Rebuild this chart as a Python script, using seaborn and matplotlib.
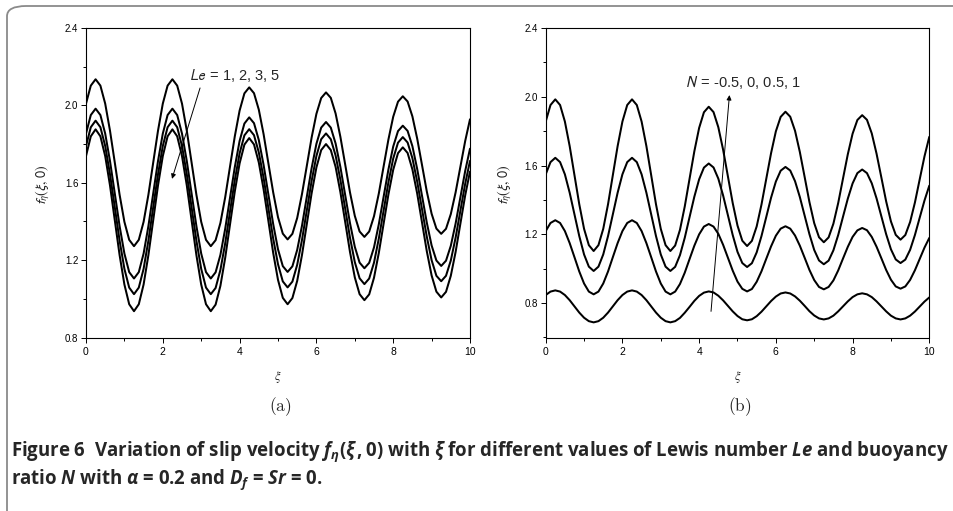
import numpy as np
import pandas as pd
import seaborn as sns
import matplotlib
matplotlib.use("Agg")
import matplotlib.pyplot as plt
from matplotlib.ticker import MultipleLocator, FixedLocator
from matplotlib.patches import FancyBboxPatch

# ---------------- data ----------------
xi = np.arange(81) * 0.125  # xi grid 0 .. 10

le_labels = ["Le = 1", "Le = 2", "Le = 3", "Le = 5"]
le_1 = [2.009, 2.102, 2.135, 2.102, 2.009, 1.869, 1.704, 1.538, 1.398, 1.305, 1.272,
        1.305, 1.398, 1.538, 1.704, 1.869, 2.009, 2.102, 2.135,
        2.102, 2.009, 1.869, 1.704, 1.538, 1.398, 1.305, 1.272,
        1.303, 1.392, 1.525, 1.683, 1.840, 1.973, 2.062, 2.093,
        2.063, 1.978, 1.851, 1.700, 1.550, 1.422, 1.337, 1.307,
        1.336, 1.418, 1.542, 1.687, 1.833, 1.956, 2.038, 2.067,
        2.039, 1.958, 1.837, 1.694, 1.550, 1.429, 1.348, 1.320,
        1.348, 1.427, 1.544, 1.684, 1.823, 1.941, 2.019, 2.047,
        2.020, 1.943, 1.828, 1.692, 1.555, 1.440, 1.363, 1.336,
        1.362, 1.438, 1.550, 1.683, 1.816, 1.928]
le_2 = [1.854, 1.950, 1.983, 1.950, 1.854, 1.712, 1.544, 1.376, 1.234, 1.138, 1.105,
        1.138, 1.234, 1.376, 1.544, 1.712, 1.854, 1.950, 1.983,
        1.950, 1.854, 1.712, 1.544, 1.376, 1.234, 1.138, 1.105,
        1.137, 1.227, 1.362, 1.522, 1.681, 1.816, 1.906, 1.938,
        1.908, 1.821, 1.692, 1.539, 1.386, 1.256, 1.169, 1.139,
        1.168, 1.253, 1.378, 1.527, 1.675, 1.801, 1.885, 1.914,
        1.885, 1.803, 1.681, 1.536, 1.391, 1.269, 1.187, 1.158,
        1.186, 1.266, 1.385, 1.527, 1.668, 1.787, 1.867, 1.895,
        1.868, 1.789, 1.671, 1.533, 1.394, 1.276, 1.198, 1.170,
        1.197, 1.274, 1.389, 1.525, 1.661, 1.776]
le_3 = [1.790, 1.887, 1.921, 1.887, 1.790, 1.644, 1.473, 1.301, 1.155, 1.058, 1.024,
        1.058, 1.155, 1.301, 1.473, 1.644, 1.790, 1.887, 1.921,
        1.887, 1.790, 1.644, 1.473, 1.301, 1.155, 1.058, 1.024,
        1.056, 1.149, 1.287, 1.451, 1.614, 1.752, 1.845, 1.877,
        1.846, 1.757, 1.625, 1.468, 1.311, 1.179, 1.090, 1.059,
        1.089, 1.176, 1.305, 1.457, 1.609, 1.738, 1.825, 1.855,
        1.825, 1.741, 1.615, 1.466, 1.316, 1.190, 1.106, 1.076,
        1.105, 1.187, 1.311, 1.456, 1.602, 1.725, 1.807, 1.836,
        1.808, 1.727, 1.606, 1.464, 1.321, 1.200, 1.119, 1.091,
        1.119, 1.198, 1.316, 1.456, 1.595, 1.713]
le_5 = [1.738, 1.840, 1.876, 1.840, 1.738, 1.586, 1.406, 1.226, 1.074, 0.972, 0.936,
        0.972, 1.074, 1.226, 1.406, 1.586, 1.738, 1.840, 1.876,
        1.840, 1.738, 1.586, 1.406, 1.226, 1.074, 0.972, 0.936,
        0.970, 1.067, 1.212, 1.384, 1.555, 1.700, 1.797, 1.831,
        1.798, 1.705, 1.566, 1.402, 1.237, 1.098, 1.005, 0.972,
        1.004, 1.093, 1.227, 1.386, 1.545, 1.679, 1.769, 1.800,
        1.769, 1.682, 1.551, 1.397, 1.242, 1.111, 1.024, 0.993,
        1.023, 1.109, 1.237, 1.388, 1.539, 1.667, 1.753, 1.783,
        1.754, 1.669, 1.544, 1.395, 1.246, 1.121, 1.037, 1.007,
        1.036, 1.119, 1.242, 1.389, 1.535, 1.658]

n_labels = ["N = 1", "N = 0.5", "N = 0", "N = -0.5"]
n_1 = [1.856, 1.952, 1.985, 1.952, 1.856, 1.713, 1.544, 1.375, 1.232, 1.137, 1.103,
       1.137, 1.232, 1.375, 1.544, 1.713, 1.856, 1.952, 1.985,
       1.952, 1.856, 1.713, 1.544, 1.375, 1.232, 1.137, 1.103,
       1.135, 1.226, 1.362, 1.523, 1.683, 1.819, 1.910, 1.942,
       1.911, 1.823, 1.692, 1.537, 1.382, 1.251, 1.163, 1.132,
       1.162, 1.246, 1.373, 1.523, 1.672, 1.799, 1.883, 1.913,
       1.884, 1.802, 1.679, 1.534, 1.388, 1.265, 1.183, 1.154,
       1.182, 1.262, 1.382, 1.524, 1.665, 1.785, 1.865, 1.893,
       1.866, 1.787, 1.669, 1.531, 1.392, 1.275, 1.197, 1.169,
       1.196, 1.272, 1.385, 1.520, 1.654, 1.767]
n_05 = [1.549, 1.620, 1.645, 1.620, 1.549, 1.442, 1.316, 1.190, 1.083, 1.012, 0.987,
        1.012, 1.083, 1.190, 1.316, 1.442, 1.549, 1.620, 1.645,
        1.620, 1.549, 1.442, 1.316, 1.190, 1.083, 1.012, 0.987,
        1.011, 1.079, 1.180, 1.300, 1.419, 1.520, 1.588, 1.612,
        1.589, 1.524, 1.426, 1.311, 1.196, 1.098, 1.033, 1.010,
        1.032, 1.095, 1.190, 1.301, 1.413, 1.507, 1.570, 1.592,
        1.571, 1.509, 1.417, 1.309, 1.201, 1.109, 1.048, 1.026,
        1.047, 1.107, 1.196, 1.302, 1.407, 1.496, 1.556, 1.577,
        1.556, 1.497, 1.409, 1.305, 1.201, 1.113, 1.054, 1.033,
        1.053, 1.110, 1.196, 1.297, 1.397, 1.483]
n_0 = [1.219, 1.266, 1.282, 1.266, 1.219, 1.149, 1.067, 0.984, 0.914, 0.867, 0.851,
       0.867, 0.914, 0.984, 1.067, 1.149, 1.219, 1.266, 1.282,
       1.266, 1.219, 1.149, 1.067, 0.984, 0.914, 0.867, 0.851,
       0.867, 0.911, 0.977, 1.056, 1.134, 1.200, 1.245, 1.260,
       1.245, 1.203, 1.139, 1.064, 0.989, 0.925, 0.883, 0.868,
       0.882, 0.924, 0.985, 1.058, 1.130, 1.192, 1.233, 1.247,
       1.233, 1.193, 1.134, 1.064, 0.993, 0.934, 0.894, 0.880,
       0.894, 0.932, 0.990, 1.059, 1.127, 1.185, 1.223, 1.237,
       1.224, 1.185, 1.128, 1.061, 0.993, 0.936, 0.897, 0.884,
       0.897, 0.935, 0.991, 1.057, 1.123, 1.179]
n_m05 = [0.847, 0.867, 0.874, 0.867, 0.847, 0.817, 0.781, 0.745, 0.715, 0.695, 0.688,
         0.695, 0.715, 0.745, 0.781, 0.817, 0.847, 0.867, 0.874,
         0.867, 0.847, 0.817, 0.781, 0.745, 0.715, 0.695, 0.688,
         0.695, 0.714, 0.744, 0.778, 0.813, 0.842, 0.861, 0.868,
         0.862, 0.843, 0.816, 0.784, 0.752, 0.725, 0.706, 0.700,
         0.706, 0.724, 0.750, 0.781, 0.812, 0.838, 0.856, 0.862,
         0.856, 0.839, 0.814, 0.784, 0.753, 0.728, 0.711, 0.705,
         0.711, 0.727, 0.752, 0.781, 0.810, 0.835, 0.851, 0.857,
         0.851, 0.835, 0.810, 0.781, 0.752, 0.727, 0.711, 0.705,
         0.711, 0.727, 0.751, 0.780, 0.809, 0.833]

x_ticks = [0, 2, 4, 6, 8, 10]
y_ticks = [0.8, 1.2, 1.6, 2.0, 2.4]

# ---------------- style ----------------
sns.set_style("ticks")
plt.rcParams.update({
    "font.family": ["Liberation Sans", "DejaVu Sans"],
    "mathtext.fontset": "custom",
    "mathtext.rm": "Open Sans:bold",
    "mathtext.it": "Open Sans:italic:bold",
    "mathtext.bf": "Open Sans:bold",
    "axes.linewidth": 0.8,
    "axes.edgecolor": "black",
    "xtick.direction": "out",
    "ytick.direction": "out",
    "xtick.major.size": 3.5,
    "ytick.major.size": 3.5,
    "xtick.minor.size": 2.0,
    "ytick.minor.size": 2.0,
    "xtick.major.width": 0.7,
    "ytick.major.width": 0.7,
    "xtick.minor.width": 0.7,
    "ytick.minor.width": 0.7,
    "lines.solid_joinstyle": "round",
})


def long_frame(series, labels):
    frames = []
    for vals, lab in zip(series, labels):
        frames.append(pd.DataFrame({"xi": xi[:len(vals)], "f": vals, "series": lab}))
    return pd.concat(frames, ignore_index=True)


df_a = long_frame([le_1, le_2, le_3, le_5], le_labels)
df_b = long_frame([n_1, n_05, n_0, n_m05], n_labels)

fig = plt.figure(figsize=(9.54, 5.11), dpi=100)
W, H = 954.0, 511.0

# rounded frame around the figure (cut off at right/bottom like the reference)
frame = FancyBboxPatch((7 / W, 1 - 540 / H), 1000 / W, 534 / H,
                       boxstyle="round,pad=0,rounding_size=0.02",
                       transform=fig.transFigure, fill=False,
                       edgecolor="#8a8a8a", linewidth=1.3, zorder=0)
fig.patches.append(frame)

ax_a = fig.add_axes([86 / W, 1 - 337.5 / H, 384 / W, 309.5 / H])
ax_b = fig.add_axes([545.7 / W, 1 - 337.5 / H, 383.6 / W, 309.5 / H])

for ax, df, ylo in ((ax_a, df_a, 0.8), (ax_b, df_b, 0.6)):
    sns.lineplot(data=df, x="xi", y="f", units="series", estimator=None,
                 color="black", linewidth=1.45, ax=ax, legend=False)
    ax.set_xlim(0, 10)
    ax.set_ylim(ylo, 2.4)
    ax.xaxis.set_major_locator(FixedLocator(x_ticks))
    ax.xaxis.set_minor_locator(MultipleLocator(1))
    ax.yaxis.set_major_locator(FixedLocator(y_ticks))
    ax.yaxis.set_minor_locator(MultipleLocator(0.2))
    ax.set_xticklabels([str(t) for t in x_ticks], fontsize=7.5)
    ax.set_yticklabels([f"{t:.1f}" for t in y_ticks], fontsize=7)
    ax.tick_params(axis="both", which="both", pad=2, colors="black")
    ax.tick_params(axis="x", which="major", pad=3)
    for s in ax.spines.values():
        s.set_visible(True)
        s.set_linewidth(0.8)
    ax.set_xlabel("")
    ax.set_ylabel("")

# axis labels
for x_lab, x_ax in ((43, 278), (505, 737.5)):
    fig.text(x_lab / W, 1 - 185 / H, r"$f_{\eta}(\xi,\,0)$", rotation=90,
             ha="center", va="center", fontsize=10, math_fontfamily="stixsans")
    fig.text(x_ax / W, 1 - 377 / H, r"$\xi$", ha="center", va="center",
             fontsize=9, math_fontfamily="stix")

fig.text(280 / W, 1 - 407 / H, r"$\mathrm{(a)}$", ha="center", va="center",
         fontsize=12.5, math_fontfamily="cm")
fig.text(740 / W, 1 - 407 / H, r"$\mathrm{(b)}$", ha="center", va="center",
         fontsize=12.5, math_fontfamily="cm")

# annotations
ax_a.text(2.68, 2.157, r"$Le\,$ = 1, 2, 3, 5", ha="left", va="center",
          fontsize=10.5, math_fontfamily="stixsans")
ax_a.annotate("", xy=(2.24, 1.62), xytext=(2.97, 2.09),
              arrowprops=dict(arrowstyle="-|>", lw=0.7, color="black",
                              mutation_scale=7, shrinkA=0, shrinkB=0))
ax_b.text(3.63, 2.085, r"$N\,$ = -0.5, 0, 0.5, 1", ha="left", va="center",
          fontsize=10.5, math_fontfamily="stixsans")
ax_b.annotate("", xy=(4.79, 2.01), xytext=(4.31, 0.752),
              arrowprops=dict(arrowstyle="-|>", lw=0.7, color="black",
                              mutation_scale=7, shrinkA=0, shrinkB=0))

# caption
cap1 = (r"Figure 6  Variation of slip velocity $f_{\eta}(\xi\,,0)$ with $\xi$ "
        r"for different values of Lewis number $Le$ and buoyancy")
cap2 = r"ratio $N$ with $\alpha$ = 0.2 and $D_f$ = $Sr$ = 0."
fig.text(11 / W, 1 - 452 / H, cap1, ha="left", va="center", fontsize=13.4,
         fontfamily="Open Sans", fontweight="bold", math_fontfamily="custom")
fig.text(11 / W, 1 - 480 / H, cap2, ha="left", va="center", fontsize=13.4,
         fontfamily="Open Sans", fontweight="bold", math_fontfamily="custom")

fig.savefig("out.png", dpi=100)
